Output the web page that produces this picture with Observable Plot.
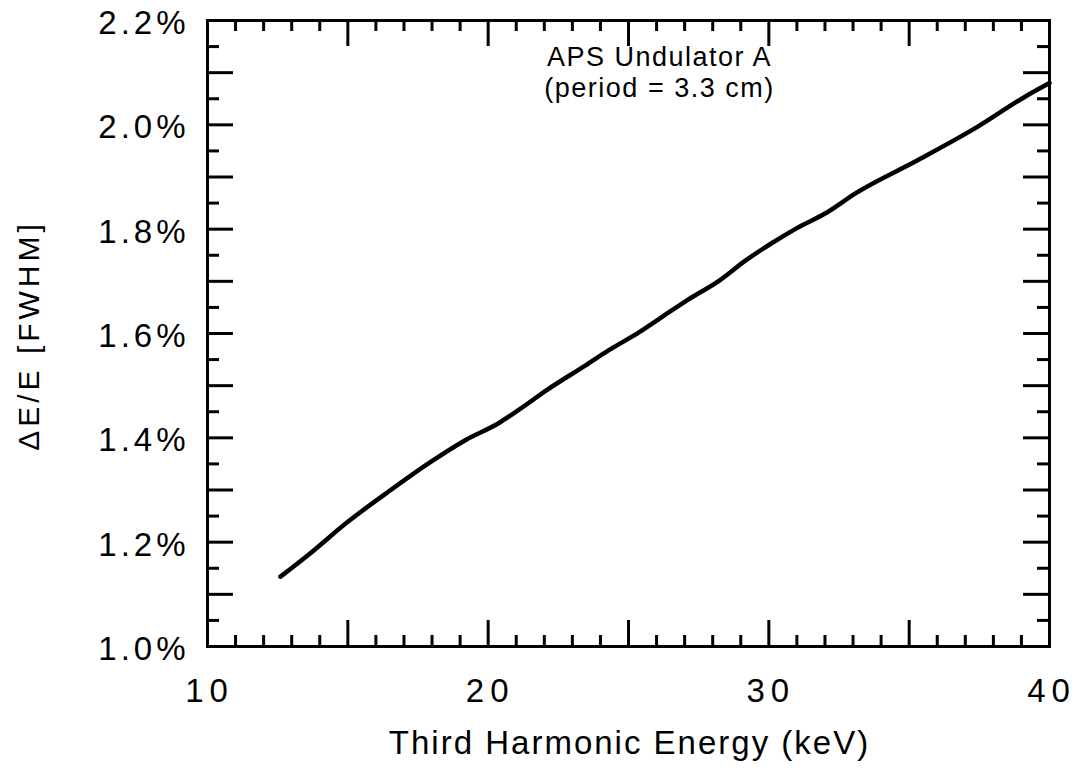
<!DOCTYPE html>
<html>
<head>
<meta charset="utf-8">
<script src="https://cdn.jsdelivr.net/npm/d3@7"></script>
<script src="https://cdn.jsdelivr.net/npm/@observablehq/plot@0.6"></script>
<style>
  html, body { margin: 0; padding: 0; background: #fff; }
  #chart svg { display: block; font-family: "Liberation Sans", Arial, Helvetica, sans-serif; }
  g[aria-label="x-axis tick label"] text { letter-spacing: 6px; }
  g[aria-label="y-axis tick label"] text { letter-spacing: 4px; }
  .ylab text { letter-spacing: 4px; }
  .xlab text { letter-spacing: 2px; }
  .note text { letter-spacing: 1.5px; }
</style>
</head>
<body>
<div id="chart"></div>
<script>
// Third harmonic energy (keV) and relative bandwidth ΔE/E FWHM (%)
const energy = [12.6, 13.6, 15.0, 16.4, 17.9, 19.2, 20.4, 21.1, 22.1, 23.5, 24.3, 25.4, 26.2, 27.1, 28.25, 29.2, 30.1, 31.0, 32.1, 33.1, 35.3, 37.4, 39.1, 40.0];
const bandwidth = [1.134, 1.176, 1.239, 1.295, 1.352, 1.396, 1.429, 1.454, 1.492, 1.540, 1.568, 1.603, 1.632, 1.664, 1.702, 1.741, 1.773, 1.802, 1.833, 1.869, 1.932, 1.995, 2.053, 2.080];

const xTickLabels = [10, 20, 30, 40];
const yTickLabels = [1.0, 1.2, 1.4, 1.6, 1.8, 2.0, 2.2];
const xMajorTicks = [15, 20, 25, 30, 35];
const xMinorTicks = d3.range(11, 40).filter(d => d % 5 !== 0);
const yMajorTicks = d3.range(11, 22).map(d => d / 10);
const yMinorTicks = d3.range(21, 44, 2).map(d => d / 20);

const title = "Third Harmonic Energy (keV)";
const yTitle = "ΔE/E [FWHM]";
const annotation = "APS Undulator A\n(period = 3.3 cm)";

const data = energy.map((e, i) => ({energy: e, bw: bandwidth[i]}));

const W = 1078, H = 777;
const mL = 207, mR = 29, mT = 20, mB = 131;
const iW = W - mL - mR, iH = H - mT - mB;
const shortX = 11, longX = 26, shortY = 12, longY = 26;

const chart = Plot.plot({
  width: W,
  height: H,
  marginLeft: mL,
  marginRight: mR,
  marginTop: mT,
  marginBottom: mB,
  style: {fontFamily: '"Liberation Sans", Arial, Helvetica, sans-serif', color: "#000", background: "#fff"},
  x: {domain: [10, 40]},
  y: {domain: [1.0, 2.2]},
  marks: [
    // inward ticks, all four sides
    Plot.tickX(xMinorTicks, {x: d => d, insetTop: iH - shortX, strokeWidth: 3}),
    Plot.tickX(xMinorTicks, {x: d => d, insetBottom: iH - shortX, strokeWidth: 3}),
    Plot.tickX(xMajorTicks, {x: d => d, insetTop: iH - longX, strokeWidth: 3}),
    Plot.tickX(xMajorTicks, {x: d => d, insetBottom: iH - longX, strokeWidth: 3}),
    Plot.tickY(yMinorTicks, {y: d => d, insetRight: iW - shortY, strokeWidth: 3}),
    Plot.tickY(yMinorTicks, {y: d => d, insetLeft: iW - shortY, strokeWidth: 3}),
    Plot.tickY(yMajorTicks, {y: d => d, insetRight: iW - longY, strokeWidth: 3}),
    Plot.tickY(yMajorTicks, {y: d => d, insetLeft: iW - longY, strokeWidth: 3}),
    Plot.frame({stroke: "#000", strokeWidth: 3}),
    Plot.axisX({ticks: xTickLabels, tickSize: 0, tickPadding: 32, dx: 2, fontSize: 33, label: null, tickFormat: d => String(d)}),
    Plot.axisY({ticks: yTickLabels, tickSize: 0, tickPadding: 22, dx: 4, dy: 3, fontSize: 33, label: null, tickFormat: d => d.toFixed(1) + "%"}),
    Plot.line(data, {x: "energy", y: "bw", stroke: "#000", strokeWidth: 4.5, curve: "monotone-x"}),
    Plot.text([annotation], {frameAnchor: "top", dx: 31, dy: 23, lineAnchor: "top", lineHeight: 1.15, fontSize: 27, fill: "#000", className: "note"}),
    Plot.text([title], {frameAnchor: "bottom", dx: 1, dy: 107, fontSize: 33, fill: "#000", className: "xlab"}),
    Plot.text([yTitle], {frameAnchor: "left", textAnchor: "middle", dx: -178, dy: 2, rotate: -90, fontSize: 30, fill: "#000", className: "ylab"})
  ]
});
document.getElementById("chart").appendChild(chart);
</script>
</body>
</html>
